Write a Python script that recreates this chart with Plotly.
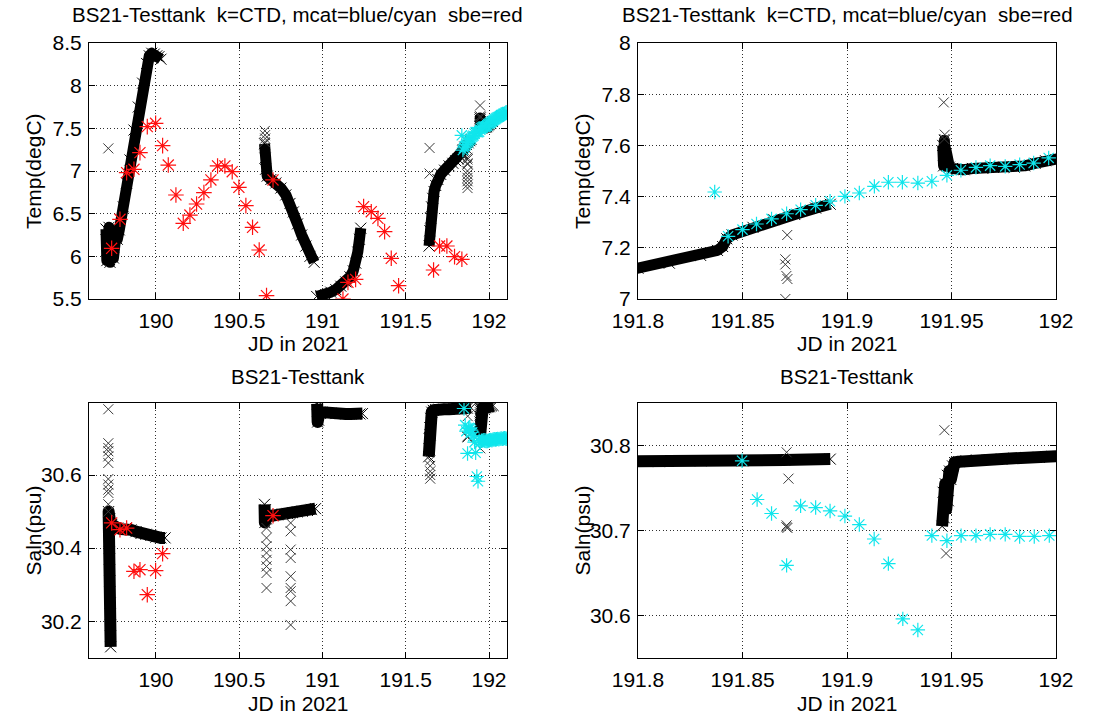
import plotly.graph_objects as go

W, H = 1095, 719

# ---------------- CTD temperature (black x), one list pair per deployment ----------------
ctd_t1_jd = [189.700, 189.705, 189.718, 189.724, 189.738, 189.745, 189.758, 189.768, 189.780,
             189.804, 189.824, 189.844, 189.868, 189.894, 189.920, 189.944, 189.960, 189.975,
             189.990, 190.005, 190.018, 190.030]
ctd_t1 = [6.32, 5.95, 6.34, 5.93, 6.30, 5.98, 6.22, 6.20, 6.31,
          6.58, 6.86, 7.13, 7.48, 7.75, 8.03, 8.26, 8.35, 8.38,
          8.37, 8.35, 8.34, 8.31]

ctd_t2_jd = [190.652, 190.655, 190.658, 190.668, 190.690, 190.720, 190.750, 190.780, 190.805,
             190.825, 190.850, 190.875, 190.900, 190.925, 190.950]
ctd_t2 = [7.32, 7.15, 7.02, 6.94, 6.90, 6.86, 6.80, 6.72, 6.62,
          6.52, 6.38, 6.25, 6.12, 6.00, 5.93]

ctd_t3_jd = [190.965, 190.990, 191.020, 191.050, 191.080, 191.110, 191.140, 191.165, 191.185,
             191.200, 191.212, 191.222, 191.230]
ctd_t3 = [5.53, 5.54, 5.55, 5.58, 5.61, 5.65, 5.70, 5.76, 5.83,
          5.92, 6.05, 6.20, 6.33]

ctd_t4_jd = [191.640, 191.645, 191.650, 191.655, 191.662, 191.670, 191.680, 191.693, 191.710,
             191.733, 191.760, 191.783, 191.800, 191.815, 191.830, 191.838, 191.8405, 191.8425,
             191.845, 191.855, 191.865, 191.875, 191.885, 191.892]
ctd_t4 = [6.12, 6.30, 6.45, 6.58, 6.68, 6.76, 6.83, 6.90, 6.96,
          7.01, 7.06, 7.09, 7.12, 7.14, 7.17, 7.19, 7.205, 7.235,
          7.25, 7.28, 7.31, 7.33, 7.355, 7.37]

ctd_t5_jd = [191.9458, 191.9462, 191.9466, 191.9470, 191.9474, 191.9480, 191.9490, 191.9505,
             191.9525, 191.9560, 191.9600, 191.9650, 191.9700, 191.9750, 191.9800, 191.9850,
             191.9900, 191.9950, 192.0000, 192.0100, 192.0200]
ctd_t5 = [7.60, 7.52, 7.62, 7.53, 7.58, 7.52, 7.515, 7.51,
          7.505, 7.505, 7.51, 7.51, 7.515, 7.515, 7.515, 7.52,
          7.53, 7.54, 7.545, 7.56, 7.58]

# isolated CTD temperature spikes
ctd_t_spike_jd = [189.714, 190.654, 190.655, 190.656, 190.653, 191.643, 191.643,
                  191.8714, 191.8705, 191.8705, 191.8710, 191.8715, 191.8705,
                  191.8710, 191.8710, 191.8710, 191.8710, 191.8710,
                  191.9463, 191.9468, 191.9466]
ctd_t_spike = [7.265, 7.47, 7.42, 7.38, 7.34, 7.27, 6.97,
               7.25, 7.155, 7.135, 7.09, 7.078, 7.00,
               6.96, 6.92, 6.88, 6.84, 6.80,
               7.768, 7.642, 7.625]

# ---------------- CTD salinity (black x) ----------------
ctd_s1_jd = [189.728, 189.727, 189.725, 189.723, 189.721, 189.719, 189.717, 189.716, 189.722,
             189.735, 189.750, 189.770, 189.790, 189.820, 189.850, 189.880, 189.910, 189.940,
             189.970, 190.000, 190.030, 190.055]
ctd_s1 = [30.13, 30.19, 30.25, 30.31, 30.37, 30.42, 30.47, 30.50, 30.48,
          30.465, 30.455, 30.455, 30.452, 30.455, 30.45, 30.445, 30.44, 30.438,
          30.435, 30.43, 30.428, 30.428]

ctd_s2_jd = [190.652, 190.654, 190.657, 190.662, 190.675, 190.700, 190.730, 190.760, 190.790,
             190.820, 190.850, 190.880, 190.910, 190.935, 190.958]
ctd_s2 = [30.52, 30.47, 30.505, 30.48, 30.487, 30.489, 30.491, 30.493, 30.495,
          30.497, 30.499, 30.501, 30.503, 30.506, 30.508]

ctd_s3_jd = [190.968, 190.971, 190.974, 190.977, 190.982, 190.995, 191.020, 191.050, 191.080,
             191.110, 191.140, 191.170, 191.200, 191.225, 191.240]
ctd_s3 = [30.795, 30.745, 30.79, 30.75, 30.772, 30.772, 30.770, 30.769, 30.768,
          30.768, 30.767, 30.767, 30.766, 30.767, 30.768]

ctd_s4_jd = [191.638, 191.640, 191.642, 191.644, 191.646, 191.650, 191.656, 191.665, 191.680,
             191.700, 191.730, 191.760, 191.790, 191.810, 191.830, 191.850, 191.870, 191.892]
ctd_s4 = [30.65, 30.70, 30.67, 30.73, 30.71, 30.755, 30.772, 30.777, 30.779,
          30.780, 30.780, 30.780, 30.781, 30.781, 30.782, 30.782, 30.783, 30.784]

ctd_s5_jd = [191.9455, 191.9460, 191.9465, 191.9470, 191.9475, 191.9480, 191.9485, 191.9490,
             191.9497, 191.9505, 191.9515, 191.9535, 191.9570, 191.9620, 191.9680, 191.9740,
             191.9800, 191.9860, 191.9920, 191.9980, 192.0050, 192.0150, 192.0250]
ctd_s5 = [30.705, 30.745, 30.715, 30.755, 30.725, 30.765, 30.735, 30.770,
          30.760, 30.776, 30.780, 30.781, 30.782, 30.783, 30.7835, 30.784,
          30.785, 30.786, 30.786, 30.787, 30.788, 30.789, 30.790]

ctd_s_spike_jd = [189.714] * 12 + [190.664] * 8 + [190.809] * 9 + [191.647] * 5 + \
                 [191.8711, 191.8720, 191.8711, 191.8715, 191.8710, 191.9466, 191.9474]
ctd_s_spike = [30.78, 30.687, 30.674, 30.665, 30.651, 30.633, 30.589, 30.574, 30.56, 30.551,
               30.52, 30.50,
               30.455, 30.428, 30.405, 30.387, 30.368, 30.35, 30.332, 30.291,
               30.469, 30.446, 30.396, 30.373, 30.323, 30.291, 30.282, 30.255, 30.19,
               30.64, 30.625, 30.61, 30.60, 30.59,
               30.792, 30.761, 30.706, 30.703, 30.704, 30.818, 30.673]

# ---------------- SBE (red *) ----------------
sbe_t_jd = [189.734, 189.784, 189.824, 189.868, 189.904, 189.948, 189.998, 190.040, 190.074,
            190.120, 190.164, 190.204, 190.244, 190.288, 190.330, 190.370, 190.414, 190.458,
            190.498, 190.540, 190.580, 190.620, 190.664, 190.703,
            191.123, 191.153, 191.199, 191.247, 191.293, 191.333, 191.373, 191.413, 191.457,
            191.667, 191.703, 191.747, 191.793, 191.837]
sbe_t = [6.094, 6.434, 6.980, 7.020, 7.215, 7.520, 7.559, 7.297, 7.070,
         6.719, 6.387, 6.484, 6.613, 6.746, 6.895, 7.059, 7.059, 6.992,
         6.809, 6.594, 6.340, 6.074, 5.539, 6.895,
         5.500, 5.695, 5.730, 6.582, 6.523, 6.445, 6.289, 5.977, 5.656,
         5.840, 6.121, 6.121, 5.996, 5.965]

sbe_s_jd = [189.734, 189.784, 189.824, 189.868, 189.904, 189.948, 189.998, 190.040, 190.703]
sbe_s = [30.469, 30.4505, 30.455, 30.3366, 30.341, 30.2727, 30.3384, 30.3849, 30.4888]

# ---------------- MicroCAT (cyan *) ----------------
mcat_t_jd = [191.8367, 191.8431, 191.8500, 191.8567, 191.8639, 191.8711, 191.8778, 191.8850,
             191.8919, 191.8990, 191.9059, 191.9131, 191.9198, 191.9265, 191.9339, 191.9406,
             191.9478, 191.9545, 191.9617, 191.9685, 191.9757, 191.9826, 191.9893, 191.9965,
             192.0035, 192.0104, 192.0174, 192.0243, 192.0313, 192.0382, 192.0451, 192.0521,
             192.0590, 192.0660, 192.0729, 192.0799, 192.0868, 192.0938, 192.1007, 192.1076]
mcat_t = [7.418, 7.245, 7.271, 7.293, 7.313, 7.333, 7.349, 7.366,
          7.382, 7.401, 7.414, 7.440, 7.456, 7.456, 7.453, 7.460,
          7.483, 7.503, 7.514, 7.521, 7.518, 7.525, 7.531, 7.551,
          7.56, 7.57, 7.58, 7.59, 7.60, 7.61, 7.62, 7.63,
          7.635, 7.645, 7.655, 7.66, 7.67, 7.675, 7.685, 7.69]

mcat_s_jd = [191.8498, 191.8570, 191.8639, 191.8711, 191.8778, 191.8850, 191.8919, 191.8990,
             191.9059, 191.9130, 191.9198, 191.9267, 191.9339, 191.9406, 191.9478, 191.9546,
             191.9617, 191.9685, 191.9757, 191.9826, 191.9896, 191.9968,
             192.0035, 192.0104, 192.0174, 192.0243, 192.0313, 192.0382, 192.0451, 192.0521,
             192.0590, 192.0660, 192.0729, 192.0799, 192.0868, 192.0938, 192.1007, 192.1076]
mcat_s = [30.782, 30.7365, 30.720, 30.659, 30.729, 30.727, 30.723, 30.717,
          30.707, 30.690, 30.661, 30.596, 30.583, 30.694, 30.688, 30.694,
          30.694, 30.6955, 30.6955, 30.693, 30.693, 30.694,
          30.695, 30.696, 30.695, 30.697, 30.698, 30.697, 30.698, 30.699,
          30.698, 30.699, 30.700, 30.699, 30.700, 30.701, 30.700, 30.699]

ctd_t_segments = [(ctd_t1_jd, ctd_t1), (ctd_t2_jd, ctd_t2), (ctd_t3_jd, ctd_t3),
                  (ctd_t4_jd, ctd_t4), (ctd_t5_jd, ctd_t5)]
ctd_s_segments = [(ctd_s1_jd, ctd_s1), (ctd_s2_jd, ctd_s2), (ctd_s3_jd, ctd_s3),
                  (ctd_s4_jd, ctd_s4), (ctd_s5_jd, ctd_s5)]

FONT = "Liberation Sans, Arial, Helvetica, sans-serif"
BLACK = "black"
RED = "#ff1010"
CYAN = "#10e6ec"

fig = go.Figure()


def add_panel(xa, ya, segments, band_w, spike_x, spike_y, sbe_x, sbe_y, mc_x, mc_y):
    for sx, sy in segments:
        fig.add_trace(go.Scatter(
            x=sx, y=sy, xaxis=xa, yaxis=ya, mode="lines+markers",
            line=dict(color=BLACK, width=band_w),
            marker=dict(symbol="x-thin", size=11, line=dict(color=BLACK, width=1)),
            showlegend=False, hoverinfo="skip"))
    fig.add_trace(go.Scatter(
        x=spike_x, y=spike_y, xaxis=xa, yaxis=ya, mode="markers",
        marker=dict(symbol="x-thin", size=10, line=dict(color="#3a3a3a", width=1)),
        showlegend=False, hoverinfo="skip"))
    fig.add_trace(go.Scatter(
        x=sbe_x, y=sbe_y, xaxis=xa, yaxis=ya, mode="markers",
        marker=dict(symbol="asterisk", size=13, line=dict(color=RED, width=1.2)),
        showlegend=False, hoverinfo="skip"))
    fig.add_trace(go.Scatter(
        x=mc_x, y=mc_y, xaxis=xa, yaxis=ya, mode="markers",
        marker=dict(symbol="asterisk", size=12, line=dict(color=CYAN, width=1.2)),
        showlegend=False, hoverinfo="skip"))


add_panel("x", "y", ctd_t_segments, 11, ctd_t_spike_jd, ctd_t_spike,
          sbe_t_jd, sbe_t, mcat_t_jd, mcat_t)
add_panel("x2", "y2", ctd_t_segments, 11, ctd_t_spike_jd, ctd_t_spike,
          sbe_t_jd, sbe_t, mcat_t_jd, mcat_t)
add_panel("x3", "y3", ctd_s_segments, 12, ctd_s_spike_jd, ctd_s_spike,
          sbe_s_jd, sbe_s, mcat_s_jd, mcat_s)
add_panel("x4", "y4", ctd_s_segments, 12, ctd_s_spike_jd, ctd_s_spike,
          sbe_s_jd, sbe_s, mcat_s_jd, mcat_s)

# panel frames in pixels: (left, right, top, bottom)
LEFT_COL = (89, 507)
RIGHT_COL = (638, 1056)
TOP_ROW = (43, 299)
BOT_ROW = (403, 658)


def xdom(col):
    return [col[0] / W, col[1] / W]


def ydom(row):
    return [1 - row[1] / H, 1 - row[0] / H]


def axis_style(**kw):
    base = dict(
        showline=True, linecolor=BLACK, linewidth=1, mirror="ticks",
        ticks="inside", ticklen=6, tickcolor=BLACK, tickwidth=1,
        showgrid=True, gridcolor="#303030", gridwidth=1, griddash="1px,2.5px",
        zeroline=False, tickfont=dict(family=FONT, size=21, color=BLACK),
        fixedrange=True, automargin=False,
    )
    base.update(kw)
    return base


def x_style(**kw):
    return axis_style(ticklabelstandoff=3, **kw)


def y_style(**kw):
    return axis_style(ticklabelstandoff=2, **kw)


fig.update_layout(
    width=W, height=H, autosize=False,
    margin=dict(l=0, r=0, t=0, b=0, pad=0, autoexpand=False),
    paper_bgcolor="white", plot_bgcolor="white", showlegend=False,
    xaxis=x_style(domain=xdom(LEFT_COL), range=[189.598, 192.108], tick0=190, dtick=0.5,
                  anchor="y"),
    yaxis=y_style(domain=ydom(TOP_ROW), range=[5.5, 8.5], tick0=5.5, dtick=0.5, anchor="x"),
    xaxis2=x_style(domain=xdom(RIGHT_COL), range=[191.8, 192.0], tick0=191.8, dtick=0.05,
                   anchor="y2"),
    yaxis2=y_style(domain=ydom(TOP_ROW), range=[7.0, 8.0], tick0=7, dtick=0.2, anchor="x2"),
    xaxis3=x_style(domain=xdom(LEFT_COL), range=[189.598, 192.108], tick0=190, dtick=0.5,
                   anchor="y3"),
    yaxis3=y_style(domain=ydom(BOT_ROW), range=[30.0995, 30.797], tick0=30, dtick=0.2,
                   anchor="x3"),
    xaxis4=x_style(domain=xdom(RIGHT_COL), range=[191.8, 192.0], tick0=191.8, dtick=0.05,
                   anchor="y4"),
    yaxis4=y_style(domain=ydom(BOT_ROW), range=[30.55, 30.85], tick0=30.5, dtick=0.1,
                   anchor="x4"),
)

title_top = "BS21-Testtank\u00a0 k=CTD, mcat=blue/cyan\u00a0 sbe=red"
title_bot = "BS21-Testtank"


def label(text, px, py, size=21, angle=0):
    fig.add_annotation(text=text, x=px / W, y=1 - py / H, xref="paper", yref="paper",
                       showarrow=False, xanchor="center", yanchor="middle", textangle=angle,
                       font=dict(family=FONT, size=size, color=BLACK))


cx_left = (LEFT_COL[0] + LEFT_COL[1]) / 2
cx_right = (RIGHT_COL[0] + RIGHT_COL[1]) / 2
label(title_top, cx_left, 15, size=20.5)
label(title_top, cx_right, 15, size=20.5)
label(title_bot, cx_left, 376, size=20.5)
label(title_bot, cx_right, 376, size=20.5)
for cx in (cx_left, cx_right):
    label("JD in 2021", cx, 343)
    label("JD in 2021", cx, 703)
label("Temp(degC)", 33, (TOP_ROW[0] + TOP_ROW[1]) / 2, angle=-90)
label("Temp(degC)", 582, (TOP_ROW[0] + TOP_ROW[1]) / 2, angle=-90)
label("Saln(psu)", 33, (BOT_ROW[0] + BOT_ROW[1]) / 2, angle=-90)
label("Saln(psu)", 582, (BOT_ROW[0] + BOT_ROW[1]) / 2, angle=-90)

# dense CTD bands: round the joins of the thick strokes
round_joins = ("document.querySelectorAll('path.js-line').forEach(function(p){"
               "p.style.strokeLinejoin='round';});")

fig.write_html("out.html", post_script=round_joins,
               config={"responsive": False, "displayModeBar": False})
